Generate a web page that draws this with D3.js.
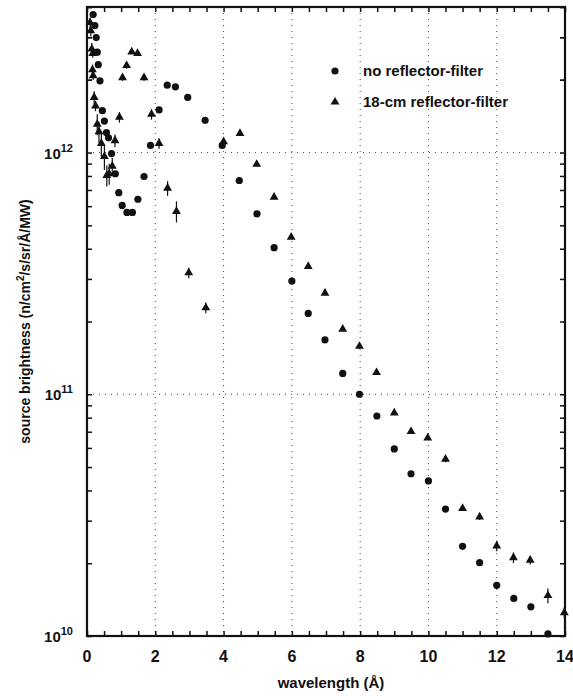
<!DOCTYPE html>
<html>
<head>
<meta charset="utf-8">
<script src="https://cdn.jsdelivr.net/npm/d3@7"></script>
<style>
  body { margin: 0; background: #fff; }
  svg text { font-family: "Liberation Sans", Arial, sans-serif; font-weight: bold; fill: #111; }
</style>
</head>
<body>
<svg id="chart" width="573" height="696"></svg>
<script>
// no reflector-filter (circles)
const noRefX = [0.18, 0.23, 0.27, 0.30, 0.33, 0.38, 0.45, 0.51, 0.57, 0.63, 0.72, 0.83, 0.93, 1.03, 1.17, 1.33, 1.49, 1.67, 1.86,
  2.11, 2.35, 2.59, 2.95, 3.46, 3.96, 4.46, 4.98, 5.48, 6.0, 6.48, 6.97, 7.49, 7.98, 8.49, 9.0, 9.49, 10.0, 10.5, 11.0, 11.5,
  12.0, 12.5, 13.0, 13.5];
const noRefY = [3.72e12, 3.35e12, 2.99e12, 2.60e12, 2.31e12, 1.98e12, 1.49e12, 1.35e12, 1.21e12, 1.15e12, 9.9e11, 8.17e11,
  6.82e11, 6.04e11, 5.65e11, 5.65e11, 6.41e11, 7.96e11, 1.07e12, 1.50e12, 1.90e12, 1.87e12, 1.69e12, 1.36e12, 1.07e12,
  7.66e11, 5.58e11, 4.04e11, 2.94e11, 2.16e11, 1.68e11, 1.22e11, 1.00e11, 8.13e10, 5.94e10, 4.69e10, 4.38e10, 3.35e10,
  2.35e10, 2.01e10, 1.62e10, 1.43e10, 1.32e10, 1.02e10];

// 18-cm reflector-filter (triangles), with relative error
const refX = [0.09, 0.11, 0.14, 0.17, 0.16, 0.18, 0.21, 0.25, 0.30, 0.35, 0.42, 0.51, 0.58, 0.65, 0.74, 0.82, 0.95, 1.04,
  1.16, 1.31, 1.48, 1.67, 1.89, 2.11, 2.36, 2.62, 2.98, 3.48, 4.0, 4.48, 4.97, 5.48, 5.98, 6.48, 6.97, 7.49, 7.98, 8.48,
  9.0, 9.49, 9.98, 10.5, 11.0, 11.5, 12.0, 12.49, 12.98, 13.5, 13.98];
const refY = [3.45e12, 3.19e12, 2.68e12, 2.57e12, 2.20e12, 2.08e12, 1.69e12, 1.56e12, 1.31e12, 1.22e12, 1.09e12, 9.63e11,
  8.04e11, 8.17e11, 8.78e11, 1.12e12, 1.40e12, 2.04e12, 2.29e12, 2.61e12, 2.57e12, 2.04e12, 1.44e12, 1.09e12, 7.12e11,
  5.71e11, 3.18e11, 2.28e11, 1.11e12, 1.20e12, 8.94e11, 6.54e11, 4.47e11, 3.38e11, 2.62e11, 1.86e11, 1.58e11, 1.23e11,
  8.37e10, 7.01e10, 6.60e10, 5.39e10, 3.37e10, 3.11e10, 2.36e10, 2.11e10, 2.06e10, 1.47e10, 1.25e10];
const refErr = [0.05, 0.05, 0.06, 0.04, 0.05, 0.04, 0.06, 0.05, 0.10, 0.10, 0.12, 0.12, 0.10, 0.10, 0.08, 0.06, 0.05, 0.03,
  0.03, 0.02, 0.02, 0.03, 0.05, 0.05, 0.07, 0.10, 0.05, 0.05, 0.02, 0.02, 0.02, 0.02, 0.02, 0.02, 0.02, 0.02, 0.02, 0.02,
  0.02, 0.02, 0.02, 0.03, 0.02, 0.03, 0.05, 0.05, 0.04, 0.07, 0.05];

const xTicks = [0, 2, 4, 6, 8, 10, 12, 14];
const yDecades = [1e10, 1e11, 1e12];
const legendLabels = ['no reflector-filter', '18-cm reflector-filter'];

const svg = d3.select('#chart');
const margin = { left: 87, right: 8, top: 7, bottom: 60 };
const W = +svg.attr('width'), H = +svg.attr('height');
const x = d3.scaleLinear().domain([0, 14]).range([margin.left, W - margin.right]);
const y = d3.scaleLog().domain([1e10, 4e12]).range([H - margin.bottom, margin.top]);
const [x0, x1] = x.range();
const [y0, y1] = y.range();

// dotted grid
const grid = svg.append('g').attr('stroke', '#444').attr('stroke-width', 1).attr('stroke-dasharray', '1,5');
grid.selectAll('line.v').data(xTicks.slice(1, -1)).join('line')
  .attr('x1', d => x(d)).attr('x2', d => x(d)).attr('y1', y1).attr('y2', y0);
grid.selectAll('line.h').data(yDecades.slice(1)).join('line')
  .attr('y1', d => y(d)).attr('y2', d => y(d)).attr('x1', x0).attr('x2', x1);

// axes with inward ticks
const minorX = d3.range(0, 14.01, 0.5);
const minorY = [];
yDecades.forEach(d => { for (let k = 1; k < 10; k++) if (d * k <= 4e12) minorY.push(d * k); });
minorY.push(2e12 * 1, 3e12, 4e12);

const axB = svg.append('g').attr('transform', `translate(0,${y0})`)
  .call(d3.axisBottom(x).tickValues(minorX).tickSize(-5).tickFormat(''));
const axT = svg.append('g').attr('transform', `translate(0,${y1})`)
  .call(d3.axisTop(x).tickValues(minorX).tickSize(-5).tickFormat(''));
const axL = svg.append('g').attr('transform', `translate(${x0},0)`)
  .call(d3.axisLeft(y).tickValues(minorY).tickSize(-5).tickFormat(''));
const axR = svg.append('g').attr('transform', `translate(${x1},0)`)
  .call(d3.axisRight(y).tickValues(minorY).tickSize(-5).tickFormat(''));
[axB, axT, axL, axR].forEach(a => {
  a.select('.domain').remove();
  a.selectAll('line').attr('stroke', '#111').attr('stroke-width', 1.5);
});

svg.append('rect').attr('x', x0).attr('y', y1).attr('width', x1 - x0).attr('height', y0 - y1)
  .attr('fill', 'none').attr('stroke', '#111').attr('stroke-width', 2.2);

// tick labels
svg.append('g').selectAll('text').data(xTicks).join('text')
  .attr('x', d => x(d)).attr('y', y0 + 26).attr('text-anchor', 'middle')
  .attr('font-size', 16).text(d => d);

const yl = svg.append('g').selectAll('text').data(yDecades).join('text')
  .attr('x', x0 - 14).attr('y', d => y(d) + 6).attr('text-anchor', 'end').attr('font-size', 15);
yl.append('tspan').text('10');
yl.append('tspan').attr('dy', -7).attr('font-size', 11).text(d => Math.round(Math.log10(d)));

// axis titles
svg.append('text').attr('x', (x0 + x1) / 2 + 5).attr('y', H - 8).attr('text-anchor', 'middle')
  .attr('font-size', 15).text('wavelength (Å)');
const yt = svg.append('text').attr('transform', `translate(30,${(y0 + y1) / 2}) rotate(-90)`)
  .attr('text-anchor', 'middle').attr('font-size', 14);
yt.append('tspan').text('source brightness (n/cm');
yt.append('tspan').attr('dy', -6).attr('font-size', 10).text('2');
yt.append('tspan').attr('dy', 6).text('/s/sr/Å/MW)');

// data
const tri = d3.symbol().type(d3.symbolTriangle).size(34);
const refData = refX.map((v, i) => ({ x: v, y: refY[i], e: refErr[i] }));
svg.append('g').attr('stroke', '#111').attr('stroke-width', 1.2).selectAll('line').data(refData).join('line')
  .attr('x1', d => x(d.x)).attr('x2', d => x(d.x))
  .attr('y1', d => y(d.y * (1 + d.e))).attr('y2', d => y(d.y * (1 - d.e)));
svg.append('g').selectAll('path').data(refData).join('path')
  .attr('d', tri).attr('fill', '#111')
  .attr('transform', d => `translate(${x(d.x)},${y(d.y)})`);

svg.append('g').selectAll('circle').data(noRefX.map((v, i) => [v, noRefY[i]])).join('circle')
  .attr('cx', d => x(d[0])).attr('cy', d => y(d[1])).attr('r', 3.6).attr('fill', '#111');

// legend
const lg = svg.append('g').attr('transform', 'translate(335,71)');
lg.append('circle').attr('r', 3.6).attr('fill', '#111');
lg.append('path').attr('d', tri).attr('fill', '#111').attr('transform', 'translate(0,31)');
lg.selectAll('text').data(legendLabels).join('text')
  .attr('x', 28).attr('y', (d, i) => i * 31 + 5).attr('font-size', 15).text(d => d);
</script>
</body>
</html>
